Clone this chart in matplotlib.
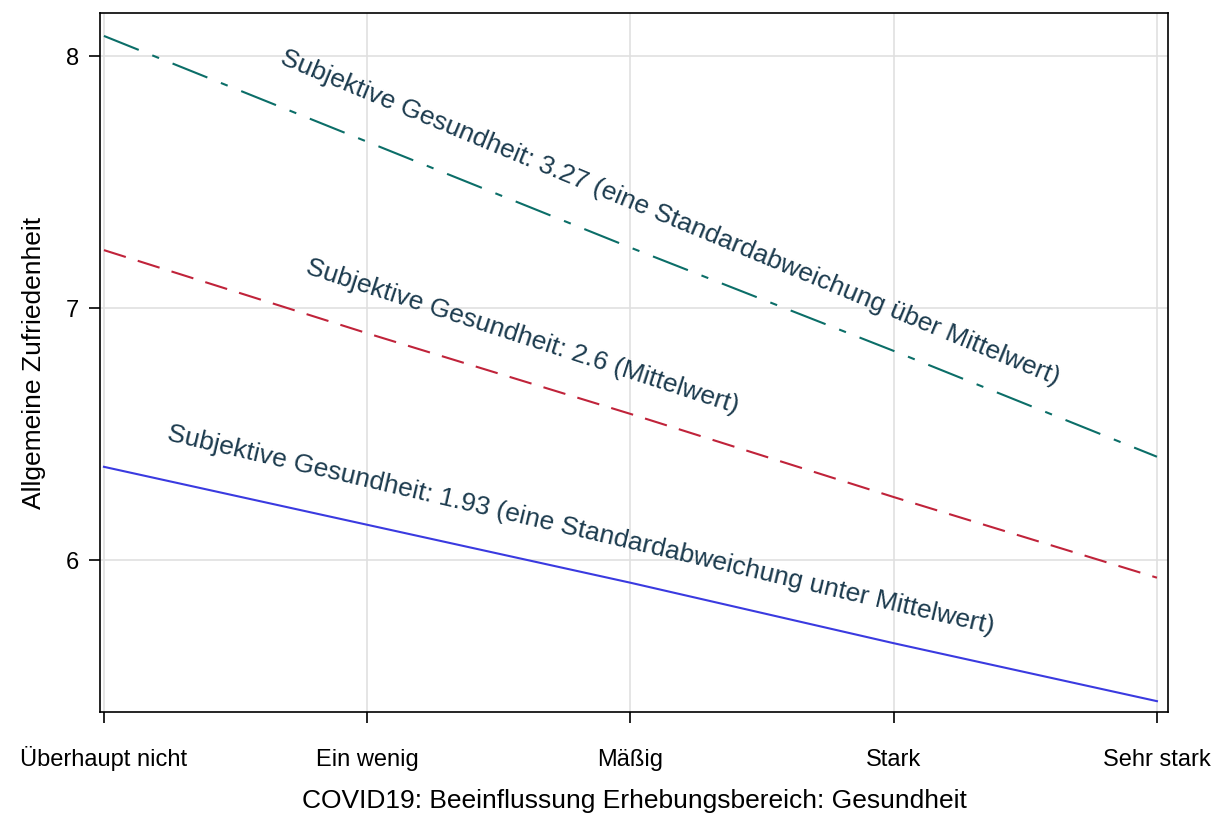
import matplotlib
matplotlib.use("Agg")
import matplotlib.pyplot as plt

plt.rcParams['font.family'] = ['Liberation Sans', 'DejaVu Sans']

# categories on x axis
categories = ["Überhaupt nicht", "Ein wenig", "Mäßig", "Stark", "Sehr stark"]
x = [1, 2, 3, 4, 5]

# predicted satisfaction per health level
high = [8.08, 7.66, 7.24, 6.83, 6.41]
mean = [7.23, 6.90, 6.58, 6.25, 5.93]
low = [6.37, 6.14, 5.91, 5.67, 5.44]

label_high = "Subjektive Gesundheit: 3.27 (eine Standardabweichung über Mittelwert)"
label_mean = "Subjektive Gesundheit: 2.6 (Mittelwert)"
label_low = "Subjektive Gesundheit: 1.93 (eine Standardabweichung unter Mittelwert)"

fig = plt.figure(figsize=(12.23, 8.14), dpi=100)
ax = fig.add_axes([100 / 1223, 1 - 712 / 814, 1068 / 1223, 699 / 814])

ax.plot(x, high, color="#0b6e68", lw=1.5, dashes=(18, 7, 3.5, 7))
ax.plot(x, mean, color="#c0233a", lw=1.5, dashes=(11, 6))
ax.plot(x, low, color="#3a3ae0", lw=1.5)

txt_color = "#1c3b4e"
ax.text(3.15, 7.357, label_high, rotation=-22.5, ha="center", va="center",
        fontsize=19, color=txt_color, rotation_mode="anchor")
ax.text(2.59, 6.885, label_mean, rotation=-18.0, ha="center", va="center",
        fontsize=19, color=txt_color, rotation_mode="anchor")
ax.text(2.81, 6.119, label_low, rotation=-13.2, ha="center", va="center",
        fontsize=19, color=txt_color, rotation_mode="anchor")

ax.set_xlim(0.985, 5.042)
ax.set_ylim(5.397, 8.171)
ax.set_xticks(x)
ax.set_xticklabels(categories, fontsize=17, va="baseline")
ax.set_yticks([6, 7, 8])
ax.set_yticklabels(["6", "7", "8"], fontsize=17)
ax.tick_params(length=8, width=1.2)
ax.tick_params(axis="x", pad=31)
ax.tick_params(axis="y", pad=7)
ax.grid(True, color="#e0e0e0", lw=1.2)
ax.set_axisbelow(True)
for s in ax.spines.values():
    s.set_linewidth(1.2)

ax.set_xlabel("COVID19: Beeinflussung Erhebungsbereich: Gesundheit", fontsize=19, labelpad=13)
ax.set_ylabel("Allgemeine Zufriedenheit", fontsize=19, labelpad=14)

fig.savefig("out.png", dpi=100)
